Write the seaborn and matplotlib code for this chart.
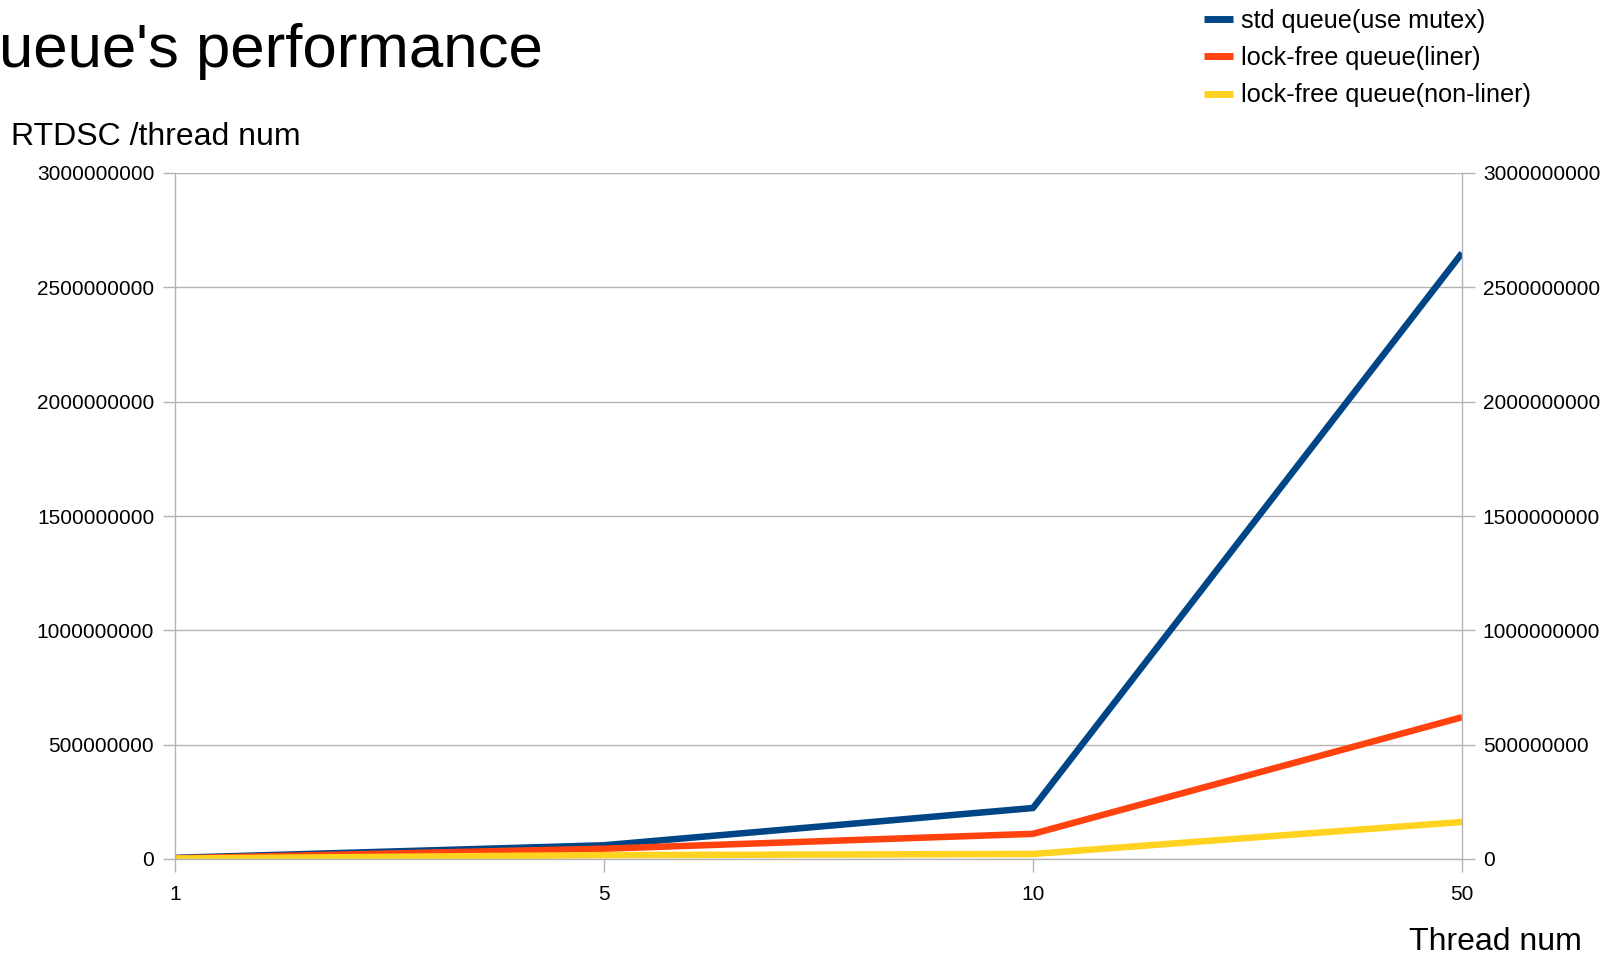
import numpy as np
import pandas as pd
import matplotlib
matplotlib.use('Agg')
import matplotlib.pyplot as plt
import matplotlib.ticker as mticker
import seaborn as sns

# data
threads = ['1', '5', '10', '50']
std_mutex = [5e6, 6.0e7, 2.23e8, 2.65e9]
lockfree_liner = [3e6, 4.5e7, 1.10e8, 6.20e8]
lockfree_nonliner = [2e6, 1.7e7, 2.2e7, 1.62e8]

series_names = ['std queue(use mutex)', 'lock-free queue(liner)', 'lock-free queue(non-liner)']
colors = ['#004586', '#ff420e', '#ffd320']
yticks = [0, 500000000, 1000000000, 1500000000, 2000000000, 2500000000, 3000000000]

df = pd.DataFrame({
    'threads': threads * 3,
    'value': std_mutex + lockfree_liner + lockfree_nonliner,
    'series': [series_names[0]] * 4 + [series_names[1]] * 4 + [series_names[2]] * 4,
})

sns.set_style('white')
plt.rcParams['font.family'] = ['Liberation Sans', 'DejaVu Sans']
plt.rcParams['text.color'] = 'black'
plt.rcParams['xtick.labelcolor'] = 'black'
plt.rcParams['ytick.labelcolor'] = 'black'

fig = plt.figure(figsize=(16.17, 9.6), dpi=100)
ax = fig.add_axes([175 / 1617, 1 - 859 / 960, (1462 - 175) / 1617, (859 - 173) / 960])

sns.lineplot(data=df, x='threads', y='value', hue='series', palette=colors,
             linewidth=4.7, sort=False, ax=ax, legend=False)
for line in ax.lines:
    line.set_solid_capstyle('butt')

ax.set_xlim(0, 3)
ax.set_ylim(0, 3000000000)
ax.set_yticks(yticks)
ax.yaxis.set_major_formatter(mticker.FuncFormatter(lambda v, p: '%d' % v))
ax.grid(axis='y', color='#b3b3b3', linewidth=1)
ax.set_axisbelow(True)
ax.spines['top'].set_visible(False)
for s in ['left', 'right', 'bottom']:
    ax.spines[s].set_color('#b3b3b3')
    ax.spines[s].set_linewidth(1)
ax.tick_params(axis='y', left=True, right=True, labelleft=True, labelright=True,
               length=9, width=1, color='#b3b3b3', labelsize=15, pad=6)
ax.tick_params(axis='x', bottom=True, length=9, width=1, color='#b3b3b3',
               labelsize=15, pad=10)
ax.set_xlabel('')
ax.set_ylabel('')

fig.text(-49 / 1617, 1 - 52 / 960, "Queue's performance", fontsize=44.5, va='center', ha='left')
fig.text(11 / 1617, 1 - 137 / 960, 'RTDSC /thread num', fontsize=23, va='center', ha='left')
fig.text(1409 / 1617, 1 - 942 / 960, 'Thread num', fontsize=23, va='center', ha='left')

handles = [plt.Line2D([], [], color=c, linewidth=5, solid_capstyle='butt') for c in colors]
fig.legend(handles, series_names, loc='upper left', bbox_to_anchor=(1194 / 1617, 1 + 1 / 960),
           frameon=False, fontsize=18.2, handlelength=1.15, handletextpad=0.3,
           labelspacing=0.52, borderaxespad=0)

fig.savefig('out.png', dpi=100)
